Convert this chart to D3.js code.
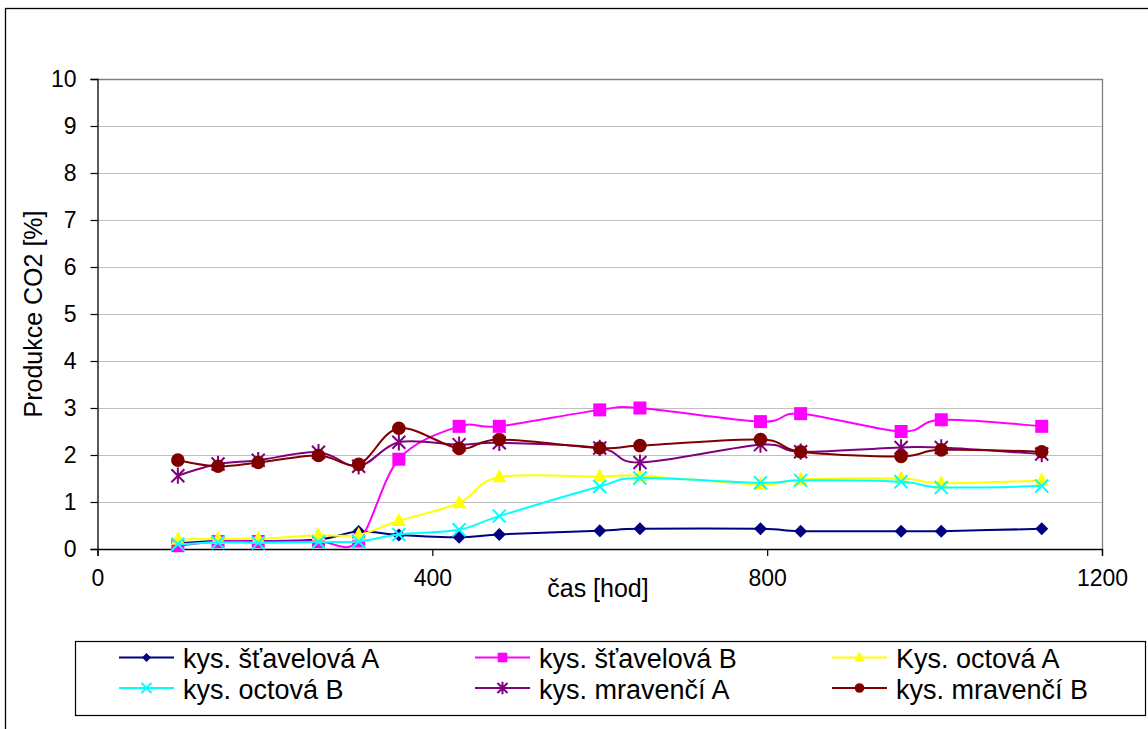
<!DOCTYPE html>
<html>
<head>
<meta charset="utf-8">
<script src="https://cdn.jsdelivr.net/npm/d3@7"></script>
<style>
  html, body { margin: 0; padding: 0; background: #fff; }
  svg { display: block; font-family: "Liberation Sans", Arial, sans-serif; }
</style>
</head>
<body>
<svg id="chart" width="1148" height="729"></svg>
<script>
// Time of measurement [hours]
const hours = [96, 144, 192, 264, 312, 360, 432, 480, 600, 648, 792, 840, 960, 1008, 1128];

// CO2 production [%] per series
const stavelovaA = [0.12, 0.17, 0.17, 0.20, 0.37, 0.30, 0.25, 0.31, 0.39, 0.43, 0.43, 0.38, 0.38, 0.38, 0.43];
const stavelovaB = [0.07, 0.16, 0.16, 0.16, 0.17, 1.91, 2.61, 2.61, 2.96, 3.00, 2.71, 2.88, 2.50, 2.75, 2.61];
const octovaA    = [0.20, 0.22, 0.22, 0.29, 0.30, 0.60, 0.98, 1.53, 1.54, 1.56, 1.37, 1.48, 1.50, 1.40, 1.46];
const octovaB    = [0.10, 0.14, 0.13, 0.15, 0.16, 0.31, 0.41, 0.70, 1.33, 1.51, 1.41, 1.46, 1.43, 1.31, 1.34];
const mravenciA  = [1.56, 1.81, 1.89, 2.06, 1.76, 2.27, 2.22, 2.26, 2.15, 1.84, 2.22, 2.07, 2.16, 2.16, 2.02];
const mravenciB  = [1.89, 1.76, 1.84, 1.99, 1.80, 2.57, 2.14, 2.33, 2.15, 2.20, 2.33, 2.07, 1.97, 2.11, 2.07];

const seriesNames = ["kys. šťavelová A", "kys. šťavelová B", "Kys. octová A",
                     "kys. octová B", "kys. mravenčí A", "kys. mravenčí B"];
const xTicks = [0, 400, 800, 1200];
const yTicks = [0, 1, 2, 3, 4, 5, 6, 7, 8, 9, 10];

const series = [
  { name: seriesNames[0], values: stavelovaA, color: "#000080", marker: "diamond" },
  { name: seriesNames[1], values: stavelovaB, color: "#FF00FF", marker: "square" },
  { name: seriesNames[2], values: octovaA,    color: "#FFFF00", marker: "triangle" },
  { name: seriesNames[3], values: octovaB,    color: "#00FFFF", marker: "x" },
  { name: seriesNames[4], values: mravenciA,  color: "#800080", marker: "star" },
  { name: seriesNames[5], values: mravenciB,  color: "#800000", marker: "circle" }
];

const svg = d3.select("#chart");
const plot = { left: 97.5, right: 1102, top: 79, bottom: 549 };

const x = d3.scaleLinear().domain([0, 1200]).range([plot.left, plot.right]);
const y = d3.scaleLinear().domain([0, 10]).range([plot.bottom, plot.top]);

// outer chart frame (open towards right/bottom edge)
svg.append("rect")
  .attr("x", 5.5).attr("y", 8.5)
  .attr("width", 1160).attr("height", 740)
  .attr("fill", "none").attr("stroke", "#000").attr("stroke-width", 1.3);

// gridlines
svg.append("g")
  .selectAll("line")
  .data(yTicks.filter(d => d > 0 && d < 10))
  .join("line")
  .attr("x1", plot.left).attr("x2", plot.right)
  .attr("y1", d => Math.round(y(d)) + 0.5).attr("y2", d => Math.round(y(d)) + 0.5)
  .attr("stroke", "#c0c0c0").attr("stroke-width", 1);

// plot area border (top and right)
svg.append("path")
  .attr("d", `M${plot.left},${plot.top + 0.5}H${plot.right + 0.5}V${plot.bottom}`)
  .attr("fill", "none").attr("stroke", "#808080").attr("stroke-width", 1.3);

// axes
const yAxis = d3.axisLeft(y).tickValues(yTicks).tickSize(7).tickPadding(14).tickFormat(d3.format("d"));
const gy = svg.append("g").attr("transform", `translate(${plot.left},0)`).call(yAxis);
gy.select(".domain").attr("stroke", "#000").attr("stroke-width", 1.3);
gy.selectAll(".tick line").attr("stroke", "#000").attr("stroke-width", 1.2);
gy.selectAll(".tick text")
  .attr("font-size", 23).attr("fill", "#000")
  .attr("font-family", "Liberation Sans, Arial, sans-serif");

const xAxis = d3.axisBottom(x).tickValues(xTicks).tickSize(7).tickPadding(14).tickFormat(d3.format("d"));
const gx = svg.append("g").attr("transform", `translate(0,${plot.bottom})`).call(xAxis);
gx.select(".domain").attr("stroke", "#000").attr("stroke-width", 1.3);
gx.selectAll(".tick line").attr("stroke", "#000").attr("stroke-width", 1.2);
gx.selectAll(".tick text")
  .attr("font-size", 23).attr("fill", "#000")
  .attr("font-family", "Liberation Sans, Arial, sans-serif");

// axis titles
svg.append("text")
  .attr("transform", `translate(42,${(plot.top + plot.bottom) / 2}) rotate(-90)`)
  .attr("text-anchor", "middle")
  .attr("font-size", 25)
  .text("Produkce CO2 [%]");

svg.append("text")
  .attr("x", 598).attr("y", 597)
  .attr("text-anchor", "middle")
  .attr("font-size", 25)
  .text("čas [hod]");

// marker shapes
function markerPath(type, r) {
  switch (type) {
    case "diamond": return `M0,${-r}L${r},0L0,${r}L${-r},0Z`;
    case "square": return `M${-r},${-r}H${r}V${r}H${-r}Z`;
    case "triangle": return `M0,${-r * 1.15}L${r},${r * 0.75}L${-r},${r * 0.75}Z`;
    case "circle": return d3.arc()({ innerRadius: 0, outerRadius: r, startAngle: 0, endAngle: 2 * Math.PI });
    case "x": return `M${-r},${-r}L${r},${r}M${-r},${r}L${r},${-r}`;
    case "star": return `M${-r},${-r}L${r},${r}M${-r},${r}L${r},${-r}M0,${-r * 1.25}V${r * 1.25}`;
  }
}
function styleMarker(sel, s) {
  const stroked = s.marker === "x" || s.marker === "star";
  sel.attr("fill", stroked ? "none" : s.color)
     .attr("stroke", stroked ? s.color : "none")
     .attr("stroke-width", stroked ? 2 : 0);
}

const line = d3.line()
  .x(d => x(d[0]))
  .y(d => y(d[1]))
  .curve(d3.curveCardinal.tension(0));

const markerSize = { diamond: 6.5, square: 6.5, triangle: 7, circle: 6.8, x: 6.5, star: 6.5 };

series.forEach(s => {
  const pts = hours.map((h, i) => [h, s.values[i]]);
  const g = svg.append("g");
  g.append("path")
    .attr("d", line(pts))
    .attr("fill", "none")
    .attr("stroke", s.color)
    .attr("stroke-width", 2);
  g.selectAll("path.m")
    .data(pts)
    .join("path")
    .attr("class", "m")
    .attr("transform", d => `translate(${x(d[0])},${y(d[1])})`)
    .attr("d", markerPath(s.marker, markerSize[s.marker]))
    .call(styleMarker, s);
});

// legend
const legend = svg.append("g");
legend.append("rect")
  .attr("x", 75.5).attr("y", 641.5)
  .attr("width", 1070).attr("height", 74)
  .attr("fill", "#fff").attr("stroke", "#000").attr("stroke-width", 1.2);

const legendCols = [119, 475, 832];
const legendRows = [657.5, 688];
const legendMarker = { diamond: 4.5, square: 4.8, triangle: 5.2, circle: 4.8, x: 5, star: 5 };

series.forEach((s, i) => {
  const cx = legendCols[i % 3];
  const cy = legendRows[Math.floor(i / 3)];
  const g = legend.append("g");
  g.append("line")
    .attr("x1", cx).attr("x2", cx + 55)
    .attr("y1", cy).attr("y2", cy)
    .attr("stroke", s.color).attr("stroke-width", 2);
  g.append("path")
    .attr("transform", `translate(${cx + 27.5},${cy})`)
    .attr("d", markerPath(s.marker, legendMarker[s.marker]))
    .call(styleMarker, s);
  g.append("text")
    .attr("x", cx + 64).attr("y", cy + 10.5)
    .attr("font-size", 27)
    .text(s.name);
});
</script>
</body>
</html>
